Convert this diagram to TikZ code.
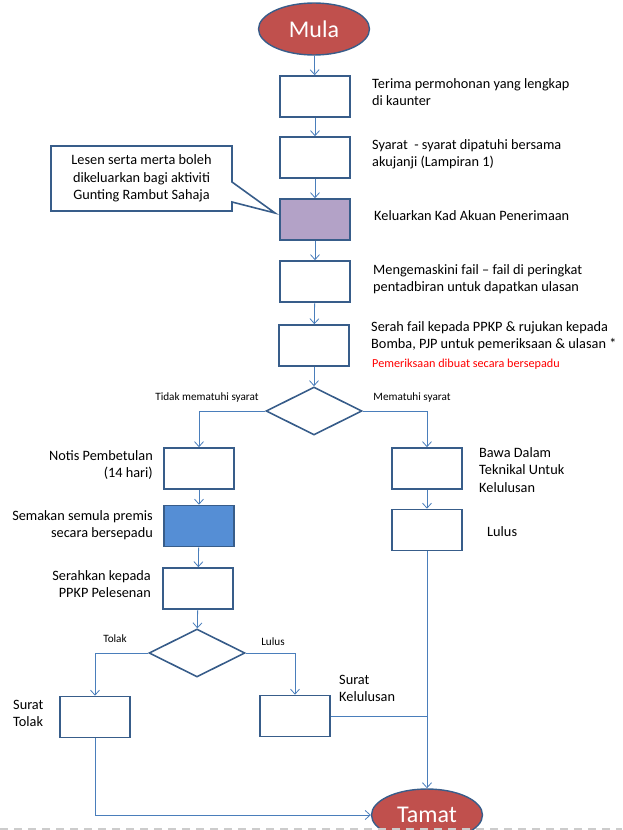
\documentclass[tikz,border=0pt]{standalone}
\usepackage{fontspec}
\setmainfont{Carlito}
\usetikzlibrary{arrows.meta,shapes.geometric}

\definecolor{lineblue}{HTML}{4A7EBB}
\definecolor{edgeblue}{HTML}{385D8A}
\definecolor{endred}{HTML}{C0504D}
\definecolor{lilac}{HTML}{B3A2C7}
\definecolor{fillblue}{HTML}{558ED5}

\tikzset{
	stepbox/.style={draw=edgeblue, line width=1.6pt, fill=white, minimum width=70pt, minimum height=41pt, inner sep=0pt},
	decide/.style={diamond, draw=edgeblue, line width=1.6pt, fill=white, minimum width=96pt, minimum height=48pt, inner sep=0pt},
	ends/.style={ellipse, draw=edgeblue, line width=1.4pt, fill=endred, minimum width=111pt, minimum height=52pt, inner sep=0pt, text=white, font=\fontsize{24}{26}\selectfont},
	flow/.style={draw=lineblue, line width=0.8pt, -{Straight Barb[length=5pt,width=9pt]}},
	line/.style={draw=lineblue, line width=0.8pt},
	txt/.style={font=\fontsize{14.3}{17.5}\selectfont, inner sep=0pt},
	small/.style={font=\fontsize{11.2}{12}\selectfont, inner sep=0pt},
}

\begin{document}
\begin{tikzpicture}[x=1pt, y=-1pt]
		\useasboundingbox (0,0) rectangle (622,830);
		\clip (0,0) rectangle (622,830);

		\node[ends] (mula) at (314,29) {Mula};
		\node[stepbox] (terima) at (315,96.5) {};
		\node[stepbox] (syarat) at (315,157.5) {};
		\node[stepbox, fill=lilac] (kad) at (315,219.5) {};
		\node[stepbox] (kemaskini) at (315,281.5) {};
		\node[stepbox] (serah) at (314,345.5) {};
		\node[decide] (semak) at (314,411) {};

		\node[stepbox] (notis) at (199,468.5) {};
		\node[stepbox, fill=fillblue] (semula) at (199,526) {};
		\node[stepbox] (pelesen) at (198,588.5) {};
		\node[decide] (putus) at (197,653) {};
		\node[stepbox] (tolak) at (95,717) {};
		\node[stepbox] (lulusan) at (295,716) {};

		\node[stepbox] (teknikal) at (427,468.5) {};
		\node[stepbox] (lulus) at (427,530) {};
		\node[ends] (tamat) at (427,815) {Tamat};

		% callout
		\draw[draw=edgeblue, line width=1.6pt, fill=white, line join=miter]
			(51,146) -- (232,146) -- (232,182) -- (275,213) -- (232,202) -- (232,211) -- (51,211) -- cycle;
		\node[txt, align=center] (nota) at (141.5,178.5) {Lesen serta merta boleh\\dikeluarkan bagi aktiviti\\Gunting Rambut Sahaja};

		% texts
		\node[txt, anchor=north west, align=left] (t1) at (372,78) {Terima permohonan yang lengkap\\di kaunter};
		\node[txt, anchor=north west, align=left] (t2) at (372,139) {Syarat\ \ - syarat dipatuhi bersama\\akujanji (Lampiran 1)};
		\node[txt, anchor=west] (t3) at (374,216) {Keluarkan Kad Akuan Penerimaan};
		\node[txt, anchor=north west, align=left] (t4) at (373,264) {Mengemaskini fail -- fail di peringkat\\pentadbiran untuk dapatkan ulasan};
		\node[txt, anchor=north west, align=left] (t5) at (371,321) {Serah fail kepada PPKP \& rujukan kepada\\Bomba, PJP untuk pemeriksaan \& ulasan *};
		\node[small, anchor=west, text=red, font=\fontsize{12.2}{13}\selectfont] (t5b) at (372,364) {Pemeriksaan dibuat secara bersepadu};
		\node[small] (tidak) at (207,398) {Tidak mematuhi syarat};
		\node[small] (patuh) at (412,398) {Mematuhi syarat};
		\node[txt, anchor=north east, align=right] (t6) at (153,450) {Notis Pembetulan\\(14 hari)};
		\node[txt, anchor=north east, align=right] (t7) at (153,510) {Semakan semula premis\\secara bersepadu};
		\node[txt, anchor=north east, align=right] (t8) at (151,570) {Serahkan kepada\\PPKP Pelesenan};
		\node[small] (ltolak) at (115,639) {Tolak};
		\node[small] (llulus) at (273,642) {Lulus};
		\node[txt, anchor=north west, align=left] (t9) at (13,700) {Surat\\Tolak};
		\node[txt, anchor=north west, align=left] (t10) at (339,675) {Surat\\Kelulusan};
		\node[txt, anchor=north west, align=left] (t11) at (479,447) {Bawa Dalam\\Teknikal Untuk\\Kelulusan};
		\node[txt, anchor=west] (t12) at (487,532) {Lulus};

		% connectors
		\draw[flow] (mula) -- (terima);
		\draw[flow] (terima) -- (syarat);
		\draw[flow] (syarat) -- (kad);
		\draw[flow] (kad) -- (kemaskini);
		\draw[flow] (kemaskini) -- (serah);
		\draw[flow] (serah) -- (semak);
		\draw[flow] (semak.west) -| (notis.north);
		\draw[flow] (semak.east) -| (teknikal.north);
		\draw[flow] (notis) -- (semula);
		\draw[flow] (semula) -- (pelesen);
		\draw[flow] (pelesen) -- (putus);
		\draw[flow] (putus.west) -| (tolak.north);
		\draw[flow] (putus.east) -| (lulusan.north);
		\draw[flow] (teknikal) -- (lulus);
		\draw[flow] (lulus) -- (tamat);
		\draw[line] (lulusan.east) -- (lulusan.east -| tamat.north);
		\draw[flow] (tolak.south) |- (tamat.west);

		% page edge
		\draw[gray!40, line width=1.5pt, dash pattern=on 8pt off 6pt] (0,829) -- (622,829);
\end{tikzpicture}
\end{document}
